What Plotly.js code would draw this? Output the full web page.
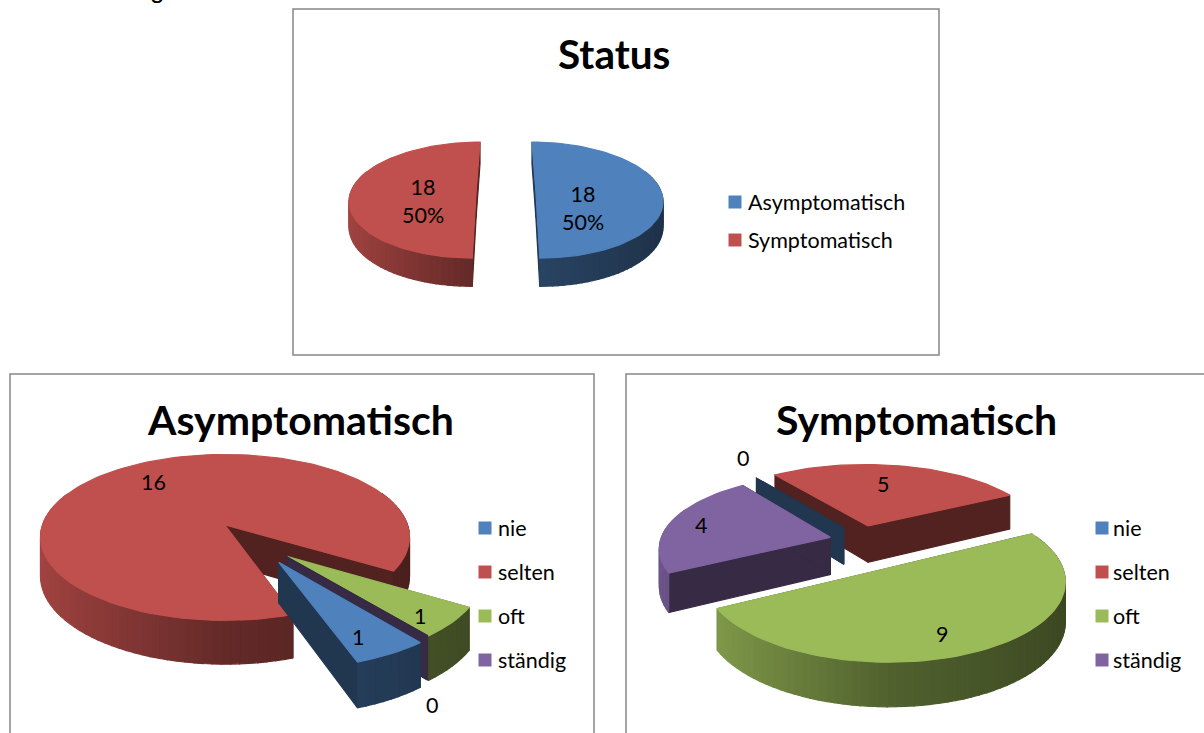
<!DOCTYPE html>
<html>
<head>
<meta charset="utf-8">
<script src="https://cdn.plot.ly/plotly-3.0.1.min.js"></script>
<style>
html,body{margin:0;padding:0;background:#fff;overflow:hidden}
text{font-variant-ligatures:none}
</style>
</head>
<body>
<div id="chart" style="width:1204px;height:733px"></div>
<script>
// Survey answers
const statusLabels = ['Asymptomatisch', 'Symptomatisch'];
const statusValues = [18, 18];
const answerLabels = ['nie', 'selten', 'oft', 'ständig'];
const asymptomaticValues = [1, 16, 1, 0];
const symptomaticValues = [0, 5, 9, 4];

const sliceColors = ['#4F81BD', '#C0504D', '#9BBB59', '#8064A2'];
const PAGE_W = 1204, PAGE_H = 733;
const FONT = 'Lato, "Open Sans", sans-serif';

// Layout of each exploded pie: box in page pixels, pie centre, radii, tilt and extrusion.
const charts = [
  { title: 'Status', titleX: 614, titleY: 54, titleSize: 40.5, labels: statusLabels, values: statusValues,
    box: [293, 9, 939, 355], centre: [506, 192.5], rx: 125.5, ry: 58, depth: 25, persp: 0.13, start: 0,
    explode: [0.238, 0.238], shift: [[0, 0], [0, 0]], scale: [1, 1],
    valueSpots: [[583, 208], [423, 201]], showPercent: true,
    legendX: 735, legendY: [202, 240], legendTextX: 746 },
  { title: 'Asymptomatisch', titleX: 300, titleY: 419, titleSize: 41, labels: answerLabels, values: asymptomaticValues,
    box: [10, 374, 594, 800], centre: [225, 525], rx: 182.5, ry: 83, depth: 38, persp: 0.15, start: 141,
    explode: [0.53, 0, 0.43, 0.49], shift: [[0.02, 0.04], [0, 0], [0, -0.08], [0.01, 0.02]], scale: [1, 1, 1, 1],
    valueSpots: [[358, 637], [153, 482], [420, 616], [432, 705]], showPercent: false,
    legendX: 485, legendY: [528, 572, 616, 660], legendTextX: 496 },
  { title: 'Symptomatisch', titleX: 916, titleY: 419, titleSize: 41, labels: answerLabels, values: symptomaticValues,
    box: [626, 374, 1300, 800], centre: [851, 550], rx: 186, ry: 83, depth: 38, persp: 0.15, start: 323,
    explode: [0.25, 0.25, 0.25, 0.25], shift: [[0.11, 0.08], [0.04, 0.06], [0.06, 0], [0.13, 0.1]], scale: [0.93, 0.97, 0.93, 0.93],
    valueSpots: [[743, 458], [883, 484], [942, 634], [701, 525]], showPercent: false,
    legendX: 1102, legendY: [528, 572, 616, 660], legendTextX: 1111 }
];

const rad = d => d * Math.PI / 180;

function shadeColor(hex, m) {
  const n = parseInt(hex.slice(1), 16);
  return `rgb(${Math.round((n >> 16) * m)},${Math.round(((n >> 8) & 255) * m)},${Math.round((n & 255) * m)})`;
}

// Side-wall brightness: lit from the left, darkest towards the right.
function wallShade(theta) {
  const s = Math.sin(rad(theta));
  return s < 0 ? 0.52 - 0.33 * s : 0.52 - 0.14 * s;
}

const traces = [], annotations = [], shapes = [];
const ann = (text, px, py, size, extra) => annotations.push(Object.assign({
  text, x: px / PAGE_W, y: 1 - py / PAGE_H, xref: 'paper', yref: 'paper', showarrow: false,
  font: { family: FONT, size, color: '#000' }, xanchor: 'center', yanchor: 'middle'
}, extra || {}));

const layout = {
  width: PAGE_W, height: PAGE_H, margin: { l: 0, r: 0, t: 0, b: 0 },
  paper_bgcolor: '#fff', plot_bgcolor: 'rgba(0,0,0,0)', showlegend: false, hovermode: false
};

charts.forEach((c, idx) => {
  const suffix = idx === 0 ? '' : String(idx + 1);
  const xa = 'x' + suffix, ya = 'y' + suffix;
  const [L, T, R, B] = c.box;
  const domL = Math.max(L, 0), domR = Math.min(R, PAGE_W), domT = Math.max(T, 0), domB = Math.min(B, PAGE_H);
  // One unit on these axes is one pie radius, so the tilt comes from the axis scales.
  layout['xaxis' + suffix] = { visible: false, fixedrange: true, anchor: ya,
    domain: [domL / PAGE_W, domR / PAGE_W], range: [(domL - c.centre[0]) / c.rx, (domR - c.centre[0]) / c.rx] };
  layout['yaxis' + suffix] = { visible: false, fixedrange: true, anchor: xa,
    domain: [1 - domB / PAGE_H, 1 - domT / PAGE_H], range: [(c.centre[1] - domB) / c.ry, (c.centre[1] - domT) / c.ry] };

  const project = (X, Y, low) => {
    const s = 1 - c.persp * Y;
    return [X * s, Y * s - (low ? c.depth / c.ry * s : 0)];
  };
  const poly = (pts, color) => traces.push({
    type: 'scatter', mode: 'lines', xaxis: xa, yaxis: ya, hoverinfo: 'skip',
    x: pts.map(p => p[0]).concat(pts[0][0]), y: pts.map(p => p[1]).concat(pts[0][1]),
    fill: 'toself', fillcolor: color, line: { color, width: 1.2 }
  });

  // Slice angles follow the values, clockwise from the start angle.
  const total = c.values.reduce((a, b) => a + b, 0);
  let angle = c.start;
  const slices = c.values.map((v, i) => {
    const a0 = angle, a1 = angle + v / total * 360;
    angle = a1;
    return { i, a0, a1, mid: (a0 + a1) / 2 };
  });

  // Painted from the back of the pie to the front.
  slices.slice().sort((p, q) => Math.cos(rad(q.mid)) - Math.cos(rad(p.mid))).forEach(sl => {
    const color = sliceColors[sl.i], e = c.explode[sl.i], r = c.scale[sl.i];
    const ax = e * Math.sin(rad(sl.mid)) + c.shift[sl.i][0];
    const ay = e * Math.cos(rad(sl.mid)) + c.shift[sl.i][1];
    const rim = (t, low) => project(ax + r * Math.sin(rad(t)), ay + r * Math.cos(rad(t)), low);
    const dark = shadeColor(color, 0.42);

    [sl.a0, sl.a1].forEach(t => {
      poly([project(ax, ay, false), rim(t, false), rim(t, true), project(ax, ay, true)], dark);
    });
    if (sl.a1 === sl.a0) return;

    const steps = Math.ceil((sl.a1 - sl.a0) / 2.5);
    const dt = (sl.a1 - sl.a0) / steps;
    for (let k = 0; k < steps; k++) {
      const t0 = sl.a0 + k * dt, t1 = t0 + dt, tm = (t0 + t1) / 2;
      if (Math.cos(rad(tm)) > 0.4) continue;
      poly([rim(t0, false), rim(t1, false), rim(t1, true), rim(t0, true)], shadeColor(color, wallShade(tm)));
    }
    const top = [project(ax, ay, false)];
    for (let k = 0; k <= steps; k++) top.push(rim(sl.a0 + k * dt, false));
    poly(top, color);
  });

  // Frame, heading and value labels
  shapes.push({ type: 'rect', xref: 'paper', yref: 'paper', layer: 'below',
    x0: L / PAGE_W, x1: R / PAGE_W, y0: 1 - B / PAGE_H, y1: 1 - T / PAGE_H,
    line: { color: '#868686', width: 1.5 }, fillcolor: '#fff' });
  ann(c.title, c.titleX, c.titleY, c.titleSize, { font: { family: FONT, size: c.titleSize, color: '#000', weight: 700 } });
  c.values.forEach((v, i) => {
    const text = c.showPercent ? `${v}<br>${Math.round(v / total * 100)}%` : String(v);
    ann(text, c.valueSpots[i][0], c.valueSpots[i][1], 21.5);
  });

  // Legend swatches and labels
  traces.push({
    type: 'scatter', mode: 'markers', xaxis: xa, yaxis: ya, hoverinfo: 'skip',
    x: c.legendY.map(() => (c.legendX - c.centre[0]) / c.rx),
    y: c.legendY.map(py => (c.centre[1] - py) / c.ry),
    marker: { symbol: 'square', size: 13, color: c.labels.map((_, i) => sliceColors[i]), line: { width: 0 } }
  });
  c.labels.forEach((label, i) => ann(label, c.legendTextX, c.legendY[i], 21.5, { xanchor: 'left' }));
});

// Tail of the running text above the charts
annotations.push({ text: 'g.', x: 148 / PAGE_W, y: 1 - 6 / PAGE_H, xref: 'paper', yref: 'paper', showarrow: false,
  xanchor: 'left', yanchor: 'bottom', font: { family: '"Liberation Sans", sans-serif', size: 26, color: '#000' } });

layout.annotations = annotations;
layout.shapes = shapes;
Plotly.newPlot('chart', traces, layout, { staticPlot: true, displayModeBar: false });
</script>
</body>
</html>
